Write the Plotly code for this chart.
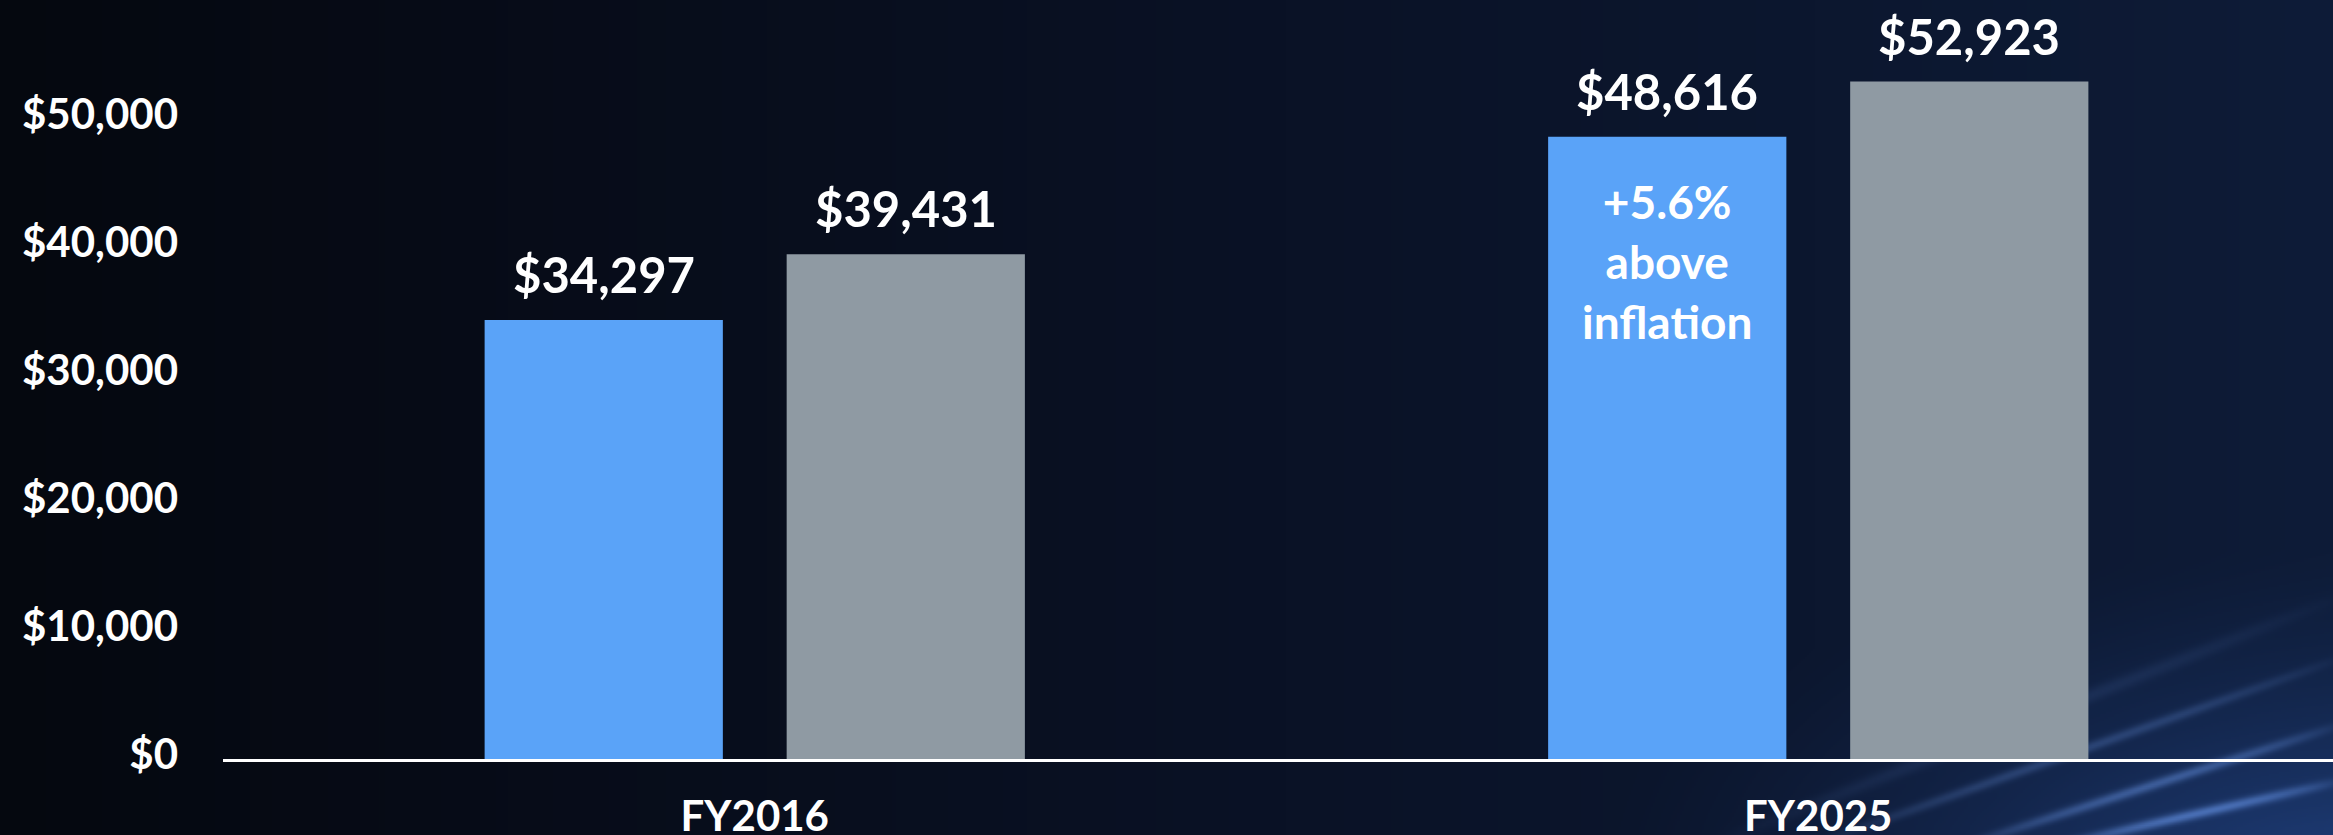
import base64, struct, zlib
import numpy as np
import plotly.graph_objects as go

# ---------------- data ----------------
categories = ["FY2016", "FY2025"]
series_names = ["Actual", "Inflation-adjusted"]
actual_values = [34297, 48616]
inflation_values = [39431, 52923]
y_tick_values = [0, 10000, 20000, 30000, 40000, 50000]
y_tick_labels = ["$0", "$10,000", "$20,000", "$30,000", "$40,000", "$50,000"]
callout_text = "+5.6%<br>above<br>inflation"

# ---------------- style ----------------
W, H = 2333, 835
ML, MR, MT, MB = 223, 0, 0, 76
BLUE = "#5AA3F8"
GRAY = "#8F9AA3"
FONT = "Lato"
BAR_W = 0.224
OFF_LEFT = -0.254
OFF_RIGHT = 0.030


def make_background(w, h):
    ys, xs = np.mgrid[0:h, 0:w].astype(float)
    u = xs / (w - 1)
    v = ys / (h - 1)
    c0 = np.array([5, 8, 15], float)
    c1 = np.array([10, 18, 38], float)
    c2 = np.array([14, 28, 56], float)
    t = np.clip(u, 0, 1)[..., None]
    base = np.where(t < 0.55, c0 + (c1 - c0) * (t / 0.55), c1 + (c2 - c1) * ((t - 0.55) / 0.45))
    # bottom-right glow
    d = np.sqrt(((u - 1.0) / 0.32) ** 2 + ((v - 1.05) / 0.40) ** 2)
    glow = np.clip(1 - d, 0, 1)[..., None] ** 1.4
    base = base + glow * np.array([18, 36, 70], float)
    # streaks (in full-pixel coordinates)
    X = u * (W - 1)
    Y = v * (H - 1)
    streaks = [
        ((1800, 835), (2333, 650), 5, 0.22),
        ((1950, 835), (2333, 715), 5, 0.35),
        ((2040, 835), (2333, 770), 5, 0.45),
        ((1700, 835), (2333, 590), 7, 0.10),
    ]
    for (x0, y0), (x1, y1), wd, a in streaks:
        dx, dy = x1 - x0, y1 - y0
        L = np.hypot(dx, dy)
        nx, ny = -dy / L, dx / L
        dist = np.abs((X - x0) * nx + (Y - y0) * ny)
        along = ((X - x0) * dx + (Y - y0) * dy) / (L * L)
        fade = np.sin(np.clip(along, 0, 1) * np.pi) ** 0.7
        s = np.exp(-(dist / wd) ** 2) * fade * a
        base = base + s[..., None] * np.array([110, 140, 190], float)
    return np.clip(base, 0, 255).astype(np.uint8)


def png_data_uri(arr):
    h, w, _ = arr.shape
    raw = b"".join(b"\x00" + arr[i].tobytes() for i in range(h))

    def chunk(tag, data):
        c = struct.pack(">I", len(data)) + tag + data
        return c + struct.pack(">I", zlib.crc32(tag + data) & 0xFFFFFFFF)

    png = b"\x89PNG\r\n\x1a\n"
    png += chunk(b"IHDR", struct.pack(">IIBBBBB", w, h, 8, 2, 0, 0, 0))
    png += chunk(b"IDAT", zlib.compress(raw, 9))
    png += chunk(b"IEND", b"")
    return "data:image/png;base64," + base64.b64encode(png).decode()


bg = png_data_uri(make_background(1167, 418))

fig = go.Figure()
fig.add_trace(go.Bar(x=categories, y=actual_values, name=series_names[0],
                     marker=dict(color=BLUE, line=dict(width=0)),
                     width=BAR_W, offset=OFF_LEFT, hoverinfo="skip"))
fig.add_trace(go.Bar(x=categories, y=inflation_values, name=series_names[1],
                     marker=dict(color=GRAY, line=dict(width=0)),
                     width=BAR_W, offset=OFF_RIGHT, hoverinfo="skip"))

annotations = []
for i, cat in enumerate(categories):
    for val, off in ((actual_values[i], OFF_LEFT), (inflation_values[i], OFF_RIGHT)):
        annotations.append(dict(
            x=i + off + BAR_W / 2, y=val, xref="x", yref="y",
            text=f"${val:,}", showarrow=False, yanchor="bottom", yshift=15,
            font=dict(family=FONT, size=49, color="white", weight="bold")))
annotations.append(dict(
    x=1 + OFF_LEFT + BAR_W / 2, y=actual_values[1], xref="x", yref="y",
    text=callout_text, showarrow=False, yanchor="top", yshift=-35,
    font=dict(family=FONT, size=46, color="white", weight="bold")))

plot_w = W - ML - MR
plot_h = H - MT - MB
pad = 12

fig.update_layout(
    width=W, height=H,
    margin=dict(l=ML, r=MR, t=MT, b=MB, pad=0, autoexpand=False),
    paper_bgcolor="#05080f", plot_bgcolor="rgba(0,0,0,0)",
    barmode="overlay", showlegend=False,
    font=dict(family=FONT, color="white"),
    annotations=annotations,
    images=[dict(source=bg, xref="paper", yref="paper",
                 x=-(ML + pad) / plot_w, y=1 + (MT + pad) / plot_h,
                 sizex=(W + 2 * pad) / plot_w, sizey=(H + 2 * pad) / plot_h,
                 xanchor="left", yanchor="top", sizing="stretch", layer="below")],
    xaxis=dict(type="category", range=[-0.5, 1.484], showgrid=False, zeroline=False,
               showline=True, linecolor="white", linewidth=3, automargin=False,
               ticks="", ticklabelstandoff=19,
               tickfont=dict(family=FONT, size=42, color="white", weight="bold")),
    yaxis=dict(range=[0, 59300], tickvals=y_tick_values, ticktext=y_tick_labels,
               showgrid=False, zeroline=False, showline=False, ticks="", automargin=False,
               ticklabelstandoff=44, ticklabelshift=-5,
               tickfont=dict(family=FONT, size=42, color="white", weight="bold")),
)

fig.write_html(
    "out.html",
    config={"displayModeBar": False},
    post_script="document.body.style.margin='0';document.body.style.overflow='hidden';"
                "document.body.style.background='#05080f';",
)
